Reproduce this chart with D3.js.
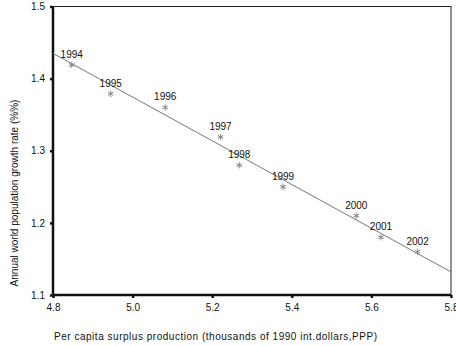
<!DOCTYPE html>
<html>
<head>
<meta charset="utf-8">
<script src="https://cdn.jsdelivr.net/npm/d3@7"></script>
<style>
  body { margin: 0; background: #fff; }
  text { font-family: "Liberation Sans", Arial, sans-serif; fill: #111; }
</style>
</head>
<body>
<div id="chart"></div>
<script>
// observed points (x = surplus per capita, y = growth rate)
const years = ['1994', '1995', '1996', '1997', '1998', '1999', '2000', '2001', '2002'];
const surplus = [4.847, 4.945, 5.082, 5.221, 5.268, 5.378, 5.562, 5.624, 5.716];
const growth = [1.419, 1.379, 1.360, 1.319, 1.280, 1.250, 1.210, 1.180, 1.160];

// fitted line end points
const fitX = [4.8, 5.8];
const fitY = [1.435, 1.132];

const xTicks = [4.8, 5.0, 5.2, 5.4, 5.6, 5.8];
const yTicks = [1.1, 1.2, 1.3, 1.4, 1.5];

const width = 456, height = 346;
const plotL = 53, plotR = 451, plotT = 6.5, plotB = 295;

const svg = d3.select('#chart').append('svg')
    .attr('width', width)
    .attr('height', height);

const x = d3.scaleLinear().domain([4.8, 5.8]).range([plotL, plotR]);
const y = d3.scaleLinear().domain([1.1, 1.5]).range([plotB, plotT]);

// frame: thin top/right, thick left/bottom
svg.append('rect')
    .attr('x', plotL).attr('y', plotT)
    .attr('width', plotR - plotL).attr('height', plotB - plotT)
    .attr('fill', 'none').attr('stroke', '#222').attr('stroke-width', 1);

const xAxis = svg.append('g')
    .attr('transform', `translate(0,${plotB})`)
    .call(d3.axisBottom(x).tickValues(xTicks).tickFormat(d3.format('.1f')).tickSize(3).tickPadding(4));
const yAxis = svg.append('g')
    .attr('transform', `translate(${plotL},0)`)
    .call(d3.axisLeft(y).tickValues(yTicks).tickFormat(d3.format('.1f')).tickSize(3).tickPadding(5));

[xAxis, yAxis].forEach(g => {
    g.select('.domain').attr('stroke', '#111').attr('stroke-width', 2.5);
    g.selectAll('.tick line').attr('stroke', '#111').attr('stroke-width', 2.5);
    g.selectAll('.tick text')
        .style('font-family', '"Liberation Sans", Arial, sans-serif')
        .style('font-size', '10px')
        .attr('fill', '#111');
});
xAxis.selectAll('.tick text').attr('dy', '0.9em');
yAxis.select('.domain').attr('d', `M0,${plotT}V${plotB}`);
xAxis.select('.domain').attr('d', `M${plotL},0H${plotR}`);

// fitted line
svg.append('line')
    .attr('x1', x(fitX[0])).attr('y1', y(fitY[0]))
    .attr('x2', x(fitX[1])).attr('y2', y(fitY[1]))
    .attr('stroke', '#777').attr('stroke-width', 1);

// asterisk markers
const pts = svg.selectAll('.pt')
    .data(years.map((yr, i) => ({ yr, sx: surplus[i], gy: growth[i] })))
    .enter().append('g')
    .attr('class', 'pt')
    .attr('transform', d => `translate(${x(d.sx)},${y(d.gy)})`);

const r = 3.2;
[0, 60, 120].forEach(a => {
    pts.append('line')
        .attr('x1', 0).attr('y1', -r).attr('x2', 0).attr('y2', r)
        .attr('transform', `rotate(${a})`)
        .attr('stroke', '#888').attr('stroke-width', 1);
});

pts.append('text')
    .attr('x', 0).attr('y', -7)
    .attr('text-anchor', 'middle')
    .style('font-size', '10px')
    .text(d => d.yr);

// axis titles
svg.append('text')
    .attr('x', 54).attr('y', 340)
    .attr('textLength', 323)
    .attr('lengthAdjust', 'spacing')
    .style('font-size', '10px')
    .text('Per capita surplus production (thousands of 1990 int.dollars,PPP)');

svg.append('text')
    .attr('transform', 'translate(18,193) rotate(-90)')
    .attr('text-anchor', 'middle')
    .style('font-size', '10px')
    .text('Annual world population growth rate (%%)');
</script>
</body>
</html>
